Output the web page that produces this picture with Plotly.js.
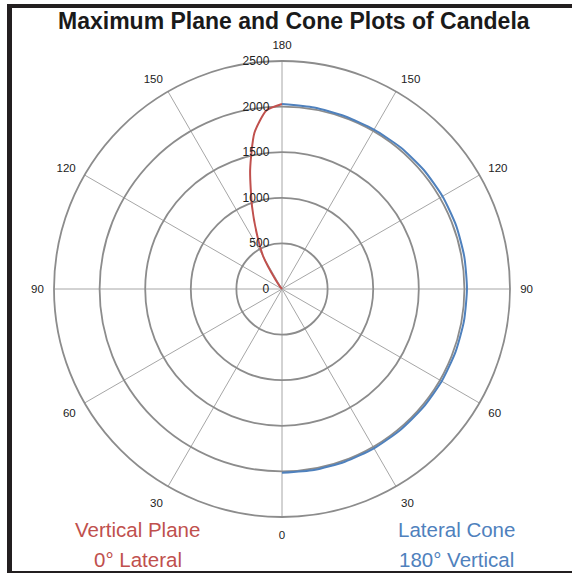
<!DOCTYPE html>
<html>
<head>
<meta charset="utf-8">
<script src="https://cdn.plot.ly/plotly-3.0.1.min.js"></script>
<style>
  html, body { margin: 0; padding: 0; background: #fff; }
  #wrap { position: relative; width: 572px; height: 574px; }
  #chart { width: 572px; height: 574px; }
  .bar { position: absolute; background: #231f20; pointer-events: none; }
</style>
</head>
<body>
<div id="wrap">
  <div id="chart"></div>
  <div class="bar" style="left:7px; top:4px; width:565px; height:4px;"></div>
  <div class="bar" style="left:7px; top:4px; width:5px; height:569px;"></div>
  <div class="bar" style="left:7px; top:571px; width:565px; height:2px;"></div>
</div>
<script>
// Lateral cone (180° vertical): candela vs lateral angle
const coneAngles = [0, 10, 20, 30, 40, 50, 60, 70, 80, 90, 100, 110, 120, 130, 140, 150, 160, 170, 180];
const coneCandela = [2015, 2015, 2015, 2017, 2018, 2020, 2022, 2024, 2026, 2028, 2030, 2032, 2032, 2030, 2025, 2018, 2015, 2020, 2028];

// Vertical plane (0° lateral): candela vs vertical angle
const planeAngles = [135, 140, 145, 150, 155, 160, 165, 170, 175, 180];
const planeCandela = [0, 30, 120, 410, 640, 960, 1350, 1740, 1965, 2028];

// Angular tick labels (mirrored 0..180 on both sides)
const angTickVals = [0, 30, 60, 90, 120, 150, 180, 210, 240, 270, 300, 330];
const angTickText = ['0', '30', '60', '90', '120', '150', '180', '150', '120', '90', '60', '30'];
const radTickVals = [0, 500, 1000, 1500, 2000, 2500];

const RED = '#c0504d';
const BLUE = '#4f81bd';

// layout geometry (pixels)
const W = 572, H = 574;
const M = {l: 54, r: 62, t: 61, b: 57};
const pw = W - M.l - M.r, ph = H - M.t - M.b;
const px = x => (x - M.l) / pw;
const py = y => (H - M.b - y) / ph;

const traces = [
  {
    type: 'scatterpolar', mode: 'lines',
    r: planeCandela, theta: planeAngles.map(a => 360 - a),
    line: {color: RED, width: 2, shape: 'spline', smoothing: 0.6},
    hoverinfo: 'skip', showlegend: false
  },
  {
    type: 'scatterpolar', mode: 'lines',
    r: coneCandela, theta: coneAngles,
    line: {color: BLUE, width: 2, shape: 'spline', smoothing: 0.6},
    hoverinfo: 'skip', showlegend: false
  }
];

const font = 'Arial, "Liberation Sans", sans-serif';

const layout = {
  width: W, height: H,
  margin: M,
  paper_bgcolor: '#fff',
  showlegend: false,
  font: {family: font, color: '#222'},
  polar: {
    bgcolor: '#fff',
    domain: {x: [0, 1], y: [0, 1]},
    angularaxis: {
      direction: 'counterclockwise',
      rotation: 270,
      tickmode: 'array',
      tickvals: angTickVals,
      ticktext: angTickText,
      tickfont: {size: 11.5, color: '#222', family: font},
      ticks: 'outside', ticklen: 7, tickcolor: 'rgba(0,0,0,0)',
      showline: true, linecolor: '#8c8c8c', linewidth: 1.8,
      gridcolor: '#a6a6a6', gridwidth: 1
    },
    radialaxis: {
      range: [0, 2500],
      angle: 90,
      tickmode: 'array',
      tickvals: radTickVals,
      tickangle: 90,
      side: 'counterclockwise',
      tickfont: {size: 12, color: '#222', family: font},
      ticks: 'outside', ticklen: 8, tickcolor: 'rgba(0,0,0,0)',
      showline: false,
      gridcolor: '#8c8c8c', gridwidth: 1.8
    }
  },
  annotations: [
    {text: '<b>Maximum Plane and Cone Plots of Candela</b>', xref: 'paper', yref: 'paper',
     x: px(294), y: py(21), xanchor: 'center', yanchor: 'middle', showarrow: false,
     font: {size: 23, color: '#1a1a1a', family: font}},
    {text: 'Vertical Plane', xref: 'paper', yref: 'paper', x: px(137.5), y: py(529),
     xanchor: 'center', yanchor: 'middle', showarrow: false, font: {size: 20.5, color: RED, family: font}},
    {text: '0° Lateral', xref: 'paper', yref: 'paper', x: px(137.5), y: py(559),
     xanchor: 'center', yanchor: 'middle', showarrow: false, font: {size: 20.5, color: RED, family: font}},
    {text: 'Lateral Cone', xref: 'paper', yref: 'paper', x: px(456), y: py(529),
     xanchor: 'center', yanchor: 'middle', showarrow: false, font: {size: 20.5, color: BLUE, family: font}},
    {text: '180° Vertical', xref: 'paper', yref: 'paper', x: px(456), y: py(559),
     xanchor: 'center', yanchor: 'middle', showarrow: false, font: {size: 20.5, color: BLUE, family: font}}
  ]
};

Plotly.newPlot('chart', traces, layout, {staticPlot: true, displayModeBar: false});
</script>
</body>
</html>
